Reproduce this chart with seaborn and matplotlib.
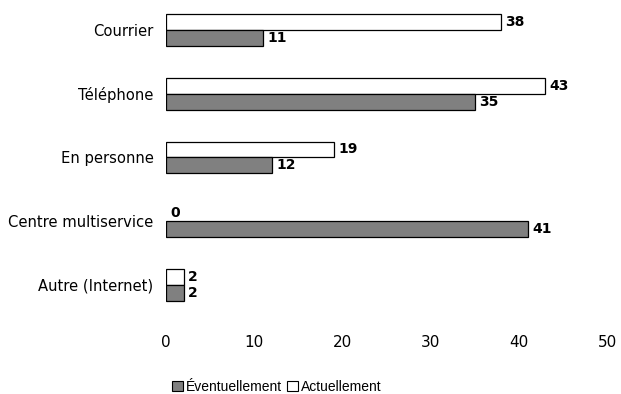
import pandas as pd
import seaborn as sns
import matplotlib.pyplot as plt
from matplotlib.patches import Patch

categories = ['Courrier', 'Téléphone', 'En personne', 'Centre multiservice', 'Autre (Internet)']
actuellement = [38, 43, 19, 0, 2]
eventuellement = [11, 35, 12, 41, 2]
series = ['Actuellement', 'Éventuellement']
colors = {'Actuellement': '#ffffff', 'Éventuellement': '#808080'}

df = pd.DataFrame({
    'cat': categories * 2,
    'serie': ['Actuellement'] * 5 + ['Éventuellement'] * 5,
    'val': actuellement + eventuellement,
})

sns.set_style('white')
plt.rcParams['font.family'] = ['DejaVu Sans']
plt.rcParams['text.color'] = 'black'
plt.rcParams['xtick.color'] = 'black'
plt.rcParams['ytick.color'] = 'black'

fig = plt.figure(figsize=(6.21, 3.94), dpi=100)
ax = fig.add_axes([166 / 621, (394 - 320) / 394, (607 - 166) / 621, 320 / 394])

sns.barplot(data=df, y='cat', x='val', hue='serie', hue_order=series, order=categories,
            palette=colors, orient='h', width=0.5, edgecolor='black', linewidth=0.9,
            legend=False, ax=ax)

for cont in ax.containers:
    for bar in cont:
        w = bar.get_width()
        y = bar.get_y() + bar.get_height() / 2
        if w == 0:
            bar.set_linewidth(0)
        ax.text(w + 0.5, y, f'{w:g}', ha='left', va='center', fontsize=10,
                fontweight='bold', color='black')

ax.set_xlim(0, 50)
ax.set_ylim(4.55, -0.47)
ax.set_xticks([0, 10, 20, 30, 40, 50])
ax.set_xlabel('')
ax.set_ylabel('')
ax.tick_params(axis='y', length=0, pad=9, labelsize=10.6)
ax.tick_params(axis='x', length=0, pad=11, labelsize=11)
for s in ax.spines.values():
    s.set_visible(False)

handles = [Patch(facecolor='#808080', edgecolor='black', linewidth=0.8, label='Éventuellement'),
           Patch(facecolor='#ffffff', edgecolor='black', linewidth=0.8, label='Actuellement')]
fig.legend(handles=handles, loc='center', bbox_to_anchor=(277 / 621, 1 - 387 / 394),
           ncol=2, frameon=False, handlelength=0.75, handleheight=0.75,
           handletextpad=0.25, columnspacing=0.35, borderaxespad=0, borderpad=0,
           prop={'family': 'Liberation Sans', 'size': 10})

fig.savefig('out.png', dpi=100)
